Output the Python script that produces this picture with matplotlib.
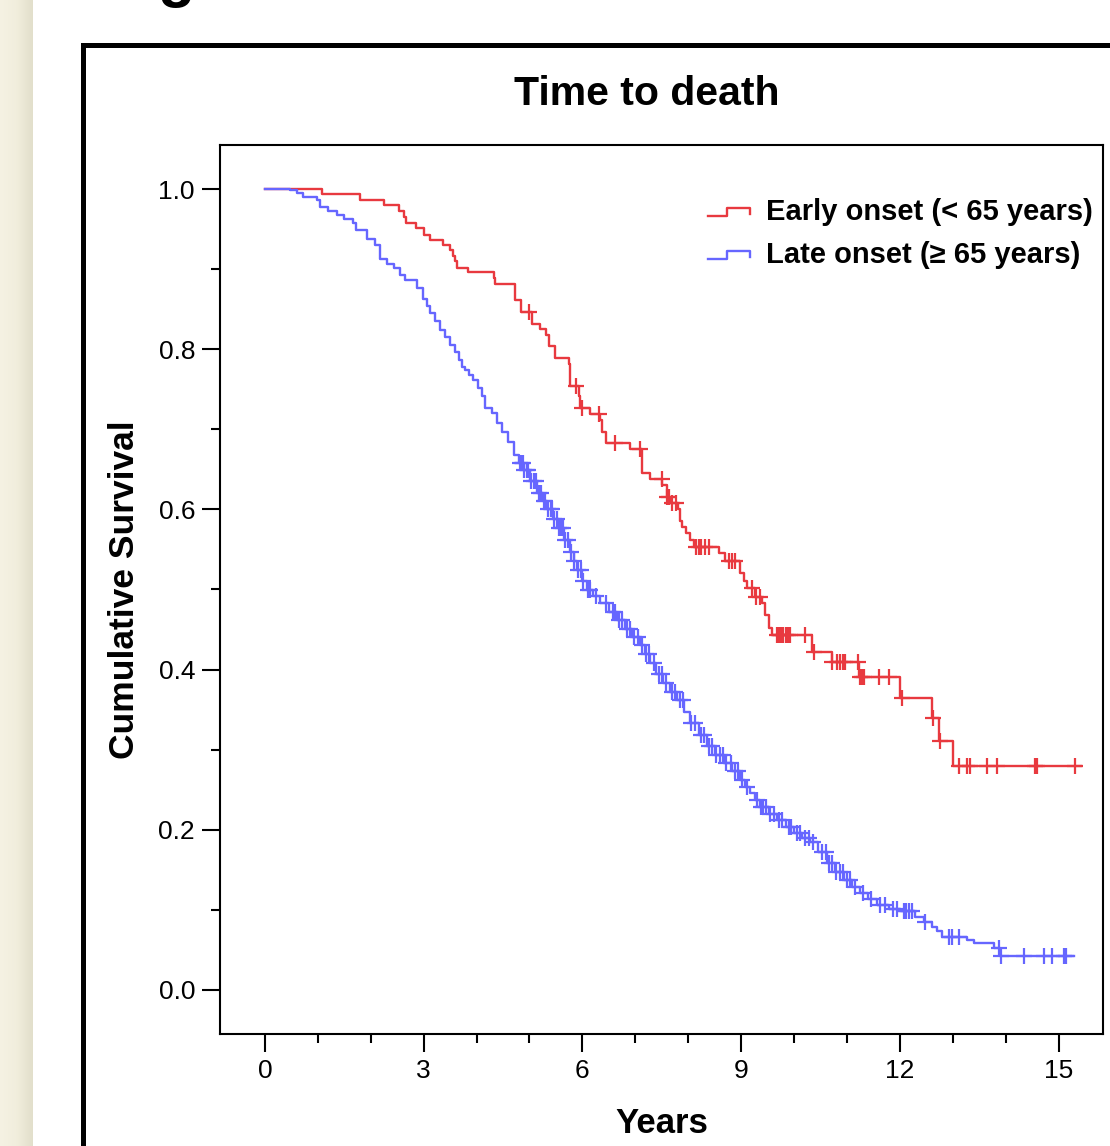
import numpy as np
from matplotlib import pyplot as plt
from matplotlib.lines import Line2D
from matplotlib.patches import Rectangle
from matplotlib.legend_handler import HandlerBase

plt.rcParams["font.family"] = ["Liberation Sans", "DejaVu Sans"]

# Kaplan-Meier step values
early_t = [0.00, 1.07, 1.80, 2.25, 2.54, 2.62, 2.66, 2.86, 3.01, 3.12, 3.37, 3.50,
           3.56, 3.59, 3.63, 3.83, 4.32, 4.35, 4.73, 4.84, 5.04, 5.20, 5.31, 5.36,
           5.48, 5.74, 5.77, 5.93, 5.96, 6.14, 6.34, 6.37, 6.44, 6.90, 7.12, 7.28,
           7.51, 7.60, 7.66, 7.80, 7.85, 7.88, 7.96, 8.04, 8.10, 8.58, 8.70, 8.98,
           9.05, 9.11, 9.27, 9.39, 9.46, 9.52, 9.58, 10.34, 10.72, 11.22, 12.01,
           12.61, 12.74, 13.00]
early_s = [1.000, 0.994, 0.986, 0.980, 0.9725, 0.965, 0.958, 0.951, 0.943, 0.937,
           0.930, 0.924, 0.916, 0.910, 0.902, 0.896, 0.889, 0.881, 0.861, 0.846,
           0.832, 0.825, 0.818, 0.804, 0.789, 0.782, 0.754, 0.741, 0.726, 0.719,
           0.712, 0.697, 0.683, 0.675, 0.646, 0.638, 0.630, 0.616, 0.608, 0.600,
           0.585, 0.578, 0.570, 0.562, 0.553, 0.545, 0.536, 0.520, 0.510, 0.502,
           0.491, 0.483, 0.468, 0.452, 0.443, 0.422, 0.409, 0.391, 0.365, 0.339,
           0.311, 0.280]
early_end = 15.42
early_cens = [5.00, 5.88, 5.99, 6.32, 6.62, 7.09, 7.50, 7.60, 7.64, 7.69, 7.77,
              8.15, 8.20, 8.25, 8.32, 8.40, 8.78, 8.82, 8.88, 9.20, 9.28, 9.35,
              9.68, 9.72, 9.75, 9.80, 9.85, 9.88, 9.92, 10.21, 10.37, 10.72, 10.81,
              10.87, 10.93, 10.97, 11.20, 11.25, 11.28, 11.32, 11.60, 11.80, 12.04,
              12.62, 12.75, 13.11, 13.27, 13.33, 13.65, 13.84, 14.56, 14.60, 15.32]

late_t = [0.00, 0.47, 0.60, 0.72, 0.98, 1.04, 1.20, 1.36, 1.50, 1.67, 1.73, 1.92,
          2.08, 2.18, 2.30, 2.43, 2.55, 2.65, 2.87, 2.99, 3.06, 3.12, 3.21, 3.31,
          3.40, 3.50, 3.59, 3.66, 3.72, 3.78, 3.86, 3.94, 4.02, 4.10, 4.16, 4.29,
          4.38, 4.48, 4.60, 4.70, 4.80, 4.89, 5.01, 5.14, 5.25, 5.33, 5.45, 5.55,
          5.66, 5.77, 5.84, 5.90, 6.00, 6.08, 6.20, 6.34, 6.50, 6.65, 6.80, 6.94,
          7.09, 7.18, 7.28, 7.40, 7.53, 7.66, 7.79, 7.92, 8.04, 8.20, 8.35, 8.50,
          8.67, 8.82, 8.98, 9.08, 9.17, 9.26, 9.36, 9.52, 9.68, 9.84, 9.99, 10.15,
          10.31, 10.46, 10.62, 10.78, 10.94, 11.10, 11.25, 11.40, 11.57, 11.80,
          12.01, 12.29, 12.45, 12.61, 12.70, 12.80, 13.27, 13.41, 13.78, 13.90]
late_s = [1.000, 0.999, 0.995, 0.990, 0.986, 0.978, 0.973, 0.968, 0.963, 0.957,
          0.949, 0.938, 0.930, 0.913, 0.907, 0.901, 0.893, 0.886, 0.876, 0.863,
          0.854, 0.845, 0.835, 0.824, 0.815, 0.805, 0.797, 0.787, 0.778, 0.774,
          0.768, 0.762, 0.752, 0.741, 0.726, 0.720, 0.708, 0.697, 0.684, 0.668,
          0.658, 0.649, 0.635, 0.620, 0.610, 0.600, 0.588, 0.577, 0.562, 0.547,
          0.535, 0.524, 0.510, 0.500, 0.492, 0.483, 0.472, 0.462, 0.451, 0.441,
          0.431, 0.420, 0.408, 0.395, 0.383, 0.372, 0.362, 0.347, 0.333, 0.318,
          0.304, 0.293, 0.283, 0.273, 0.262, 0.254, 0.246, 0.237, 0.229, 0.220,
          0.212, 0.204, 0.196, 0.190, 0.185, 0.172, 0.158, 0.147, 0.137, 0.129,
          0.121, 0.113, 0.106, 0.101, 0.098, 0.0915, 0.085, 0.079, 0.073, 0.0665,
          0.062, 0.058, 0.052, 0.042]
late_end = 15.29
late_cens = [4.82, 4.85, 4.87, 4.90, 4.95, 4.98, 5.03, 5.08, 5.12, 5.18, 5.22,
             5.27, 5.30, 5.35, 5.40, 5.43, 5.47, 5.52, 5.55, 5.60, 5.63, 5.68,
             5.72, 5.78, 5.85, 5.92, 5.97, 6.02, 6.10, 6.15, 6.25, 6.45, 6.58,
             6.62, 6.70, 6.75, 6.85, 6.90, 6.97, 7.05, 7.12, 7.20, 7.25, 7.35,
             7.45, 7.50, 7.58, 7.70, 7.75, 7.85, 7.90, 8.05, 8.12, 8.25, 8.30,
             8.40, 8.45, 8.52, 8.60, 8.65, 8.72, 8.80, 8.88, 8.95, 9.02, 9.12,
             9.30, 9.38, 9.42, 9.47, 9.55, 9.62, 9.72, 9.78, 9.90, 9.95, 10.05,
             10.12, 10.20, 10.28, 10.35, 10.52, 10.60, 10.66, 10.72, 10.80, 10.87,
             10.92, 11.00, 11.05, 11.15, 11.30, 11.45, 11.62, 11.72, 11.88, 11.95,
             12.07, 12.12, 12.18, 12.23, 12.48, 12.93, 12.99, 13.11, 13.87, 13.92,
             14.34, 14.72, 14.88, 15.10, 15.15]

labels = ["Early onset (< 65 years)", "Late onset (\u2265 65 years)"]
RED = "#E8393F"
BLUE = "#6666FF"


class StepHandler(HandlerBase):
    # small step-shaped legend key, as in SPSS survival plots
    def create_artists(self, legend, orig_handle, xdescent, ydescent,
                       width, height, fontsize, trans):
        xs = np.array([0.0, 0.45, 0.45, 1.0, 1.0]) * width - xdescent
        ys = np.array([0.22, 0.22, 0.62, 0.62, 0.3]) * height - ydescent
        ln = Line2D(xs, ys, color=orig_handle.get_color(),
                    lw=orig_handle.get_linewidth(), transform=trans)
        return [ln]


def km_curve(ax, t, s, t_end, cens, color, label):
    tt = np.append(t, t_end)
    ss = np.append(s, s[-1])
    line, = ax.step(tt, ss, where="post", color=color, lw=1.7, label=label)
    idx = np.searchsorted(t, cens, side="right") - 1
    ax.plot(cens, np.asarray(s)[idx], ls="none", marker="+", ms=11,
            mew=1.6, color=color)
    return line


fig = plt.figure(figsize=(11.10, 11.46), dpi=100)

# beige page edge on the left
bg = fig.add_axes([0, 0, 33 / 1110, 1])
grad = np.linspace(0, 1, 50)[None, :]
bg.imshow(grad, aspect="auto", cmap=plt.matplotlib.colors.LinearSegmentedColormap.from_list(
    "edge", ["#F5F2E3", "#F1EEDD", "#E2DFCB"]), extent=[0, 1, 0, 1])
bg.axis("off")

# outer panel frame, cut off by the screenshot
fig.patches.append(Rectangle((82.5 / 1110, -0.2), 2.0, 1.2 - 44.5 / 1146,
                             transform=fig.transFigure, fill=False,
                             lw=3.6, ec="black"))
# panel letter, only its lower edge is inside the screenshot
fig.text(176 / 1110, 1 + 5 / 1146, "g", fontsize=44, fontweight="bold",
         ha="center", va="baseline")

ax = fig.add_axes([220 / 1110, 1 - 1034 / 1146, 883 / 1110, 889 / 1146])

l1 = km_curve(ax, early_t, early_s, early_end, early_cens, RED, labels[0])
l2 = km_curve(ax, late_t, late_s, late_end, late_cens, BLUE, labels[1])

ax.set_xlim(-0.85, 15.84)
ax.set_ylim(-0.055, 1.055)
ax.set_xticks([0, 3, 6, 9, 12, 15])
ax.set_xticks(np.arange(1, 16), minor=True)
ax.set_yticks([0.0, 0.2, 0.4, 0.6, 0.8, 1.0])
ax.set_yticklabels(["0.0", "0.2", "0.4", "0.6", "0.8", "1.0"])
ax.set_yticks(np.arange(0.1, 1.0, 0.2), minor=True)
ax.tick_params(which="major", length=13, width=1.5, labelsize=19, pad=5)
ax.tick_params(which="minor", length=6.5, width=1.5)
for sp in ax.spines.values():
    sp.set_linewidth(1.5)

ax.set_xlabel("Years", fontsize=25, fontweight="bold", va="center")
ax.xaxis.set_label_coords(0.5, -0.101)
ax.set_ylabel("Cumulative Survival", fontsize=25.5, fontweight="bold", va="center")
ax.yaxis.set_label_coords(-0.1076, 0.5)

fig.text(647 / 1110, 1 - 94 / 1146, "Time to death", fontsize=29.5,
         fontweight="bold", ha="center", va="center")

ax.legend([l1, l2], labels, handler_map={l1: StepHandler(), l2: StepHandler()},
          loc="upper right", bbox_to_anchor=(0.9887, 0.94), frameon=False,
          prop={"size": 21, "weight": "bold"}, handlelength=1.43,
          handletextpad=0.55, labelspacing=0.51, borderpad=0, borderaxespad=0)

fig.savefig("out.png", dpi=100)
